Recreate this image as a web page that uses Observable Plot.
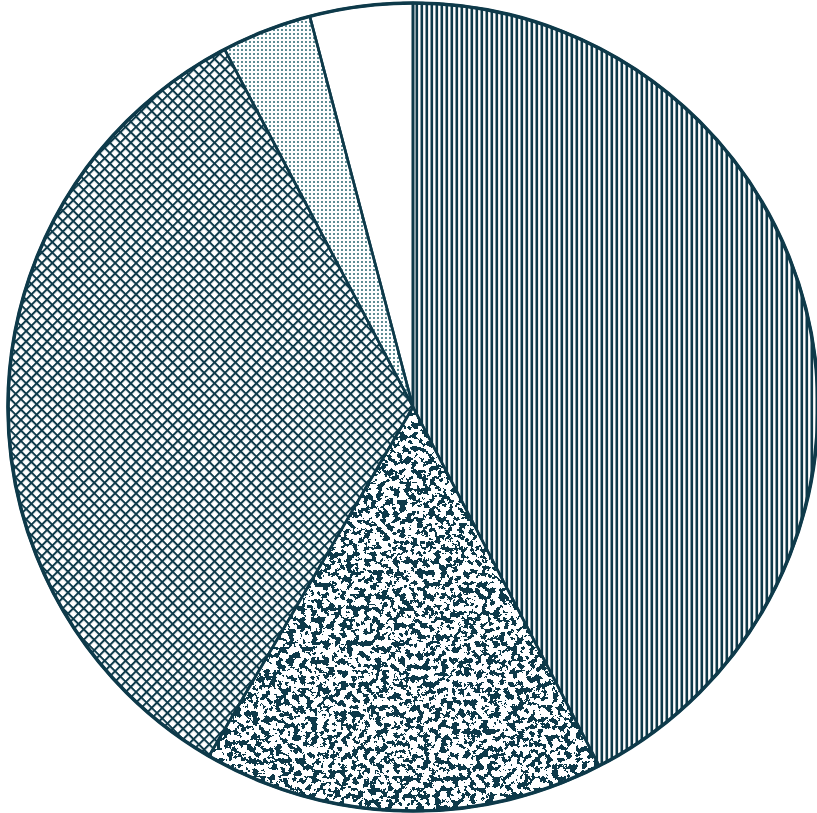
<!DOCTYPE html>
<html><head><meta charset="utf-8">
<script src="https://cdn.jsdelivr.net/npm/d3@7"></script>
<script src="https://cdn.jsdelivr.net/npm/@observablehq/plot@0.6"></script>
<style>html,body{margin:0;padding:0;background:#fff;overflow:hidden}</style>
</head><body><div id="chart"></div>
<script>
// Slices, clockwise from 12 o'clock
const categories = ["A", "B", "C", "D", "E"];
const shares = [42.4, 16.0, 33.9, 3.6, 4.1];
const fills = ["stripes", "speckle", "crosshatch", "dots", "blank"];

const INK = "#0e3a4a";

const slices = d3.pie().sort(null).value(d => d.value)(
  categories.map((c, i) => ({category: c, value: shares[i], fill: fills[i]}))
);

function pieMark(index, scales, values, dimensions) {
  const {x, y} = scales;
  const g = d3.create("svg:g");
  const defs = g.append("defs");

  // vertical stripes
  const st = defs.append("pattern").attr("id", "p-stripes")
    .attr("patternUnits", "userSpaceOnUse").attr("width", 5).attr("height", 10);
  st.append("rect").attr("width", 5).attr("height", 10).attr("fill", "#fff");
  st.append("rect").attr("x", 0.5).attr("width", 2.6).attr("height", 10).attr("fill", INK);

  // cross hatch (diamonds)
  const ch = defs.append("pattern").attr("id", "p-crosshatch")
    .attr("patternUnits", "userSpaceOnUse").attr("width", 7.4).attr("height", 7.4)
    .attr("patternTransform", "rotate(45)");
  ch.append("rect").attr("width", 7.4).attr("height", 7.4).attr("fill", "#fff");
  ch.append("rect").attr("width", 7.4).attr("height", 2.0).attr("fill", INK);
  ch.append("rect").attr("width", 2.0).attr("height", 7.4).attr("fill", INK);

  // fine dots
  const dt = defs.append("pattern").attr("id", "p-dots")
    .attr("patternUnits", "userSpaceOnUse").attr("width", 4).attr("height", 4);
  dt.append("rect").attr("width", 4).attr("height", 4).attr("fill", "#fff");
  dt.append("circle").attr("cx", 2).attr("cy", 2).attr("r", 0.95).attr("fill", "#1a5e68");

  // speckle texture
  const f = defs.append("filter").attr("id", "f-speckle")
    .attr("color-interpolation-filters", "sRGB")
    .attr("x", "-5%").attr("y", "-5%").attr("width", "110%").attr("height", "110%");
  f.append("feTurbulence").attr("type", "fractalNoise").attr("baseFrequency", 0.17)
    .attr("numOctaves", 4).attr("seed", 7).attr("result", "t");
  f.append("feColorMatrix").attr("in", "t").attr("type", "matrix")
    .attr("values", "0 0 0 0 0.055  0 0 0 0 0.227  0 0 0 0 0.29  1 0 0 0 0").attr("result", "m");
  const ct = f.append("feComponentTransfer").attr("in", "m").attr("result", "th");
  ct.append("feFuncA").attr("type", "discrete")
    .attr("tableValues", Array.from({length: 40}, (_, i) => i < 21 ? 0 : 1).join(" "));
  f.append("feComposite").attr("in", "th").attr("in2", "SourceGraphic").attr("operator", "in").attr("result", "c");
  const mg = f.append("feMerge");
  mg.append("feMergeNode").attr("in", "SourceGraphic");
  mg.append("feMergeNode").attr("in", "c");

  const px = a => x(Math.sin(a));
  const py = a => y(Math.cos(a));
  const cx = x(0), cy = y(0);

  const slicePath = s => {
    const n = Math.max(8, Math.ceil((s.endAngle - s.startAngle) / 0.005));
    let d = `M${cx},${cy}`;
    for (let i = 0; i <= n; i++) {
      const a = s.startAngle + (s.endAngle - s.startAngle) * i / n;
      d += `L${px(a)},${py(a)}`;
    }
    return d + "Z";
  };

  const fillOf = s => (s.data.fill === "blank" || s.data.fill === "speckle") ? "#fff" : `url(#p-${s.data.fill})`;

  g.append("g").selectAll("path").data(slices).join("path")
    .attr("d", slicePath)
    .attr("fill", fillOf)
    .attr("filter", s => s.data.fill === "speckle" ? "url(#f-speckle)" : null);

  g.append("g").selectAll("path").data(slices).join("path")
    .attr("d", slicePath)
    .attr("fill", "none")
    .attr("stroke", INK)
    .attr("stroke-width", 2.6)
    .attr("stroke-linejoin", "round");

  g.append("ellipse")
    .attr("cx", cx).attr("cy", cy)
    .attr("rx", Math.abs(x(1) - cx)).attr("ry", Math.abs(y(1) - cy))
    .attr("fill", "none").attr("stroke", INK).attr("stroke-width", 3.6);

  return g.node();
}

const chart = Plot.plot({
  width: 817,
  height: 813,
  margin: 0,
  style: {background: "#fff"},
  x: {domain: [-1, 1], range: [8, 818], axis: null},
  y: {domain: [-1, 1], range: [811, 3], axis: null},
  marks: [pieMark]
});
document.getElementById("chart").appendChild(chart);
</script>
</body></html>
